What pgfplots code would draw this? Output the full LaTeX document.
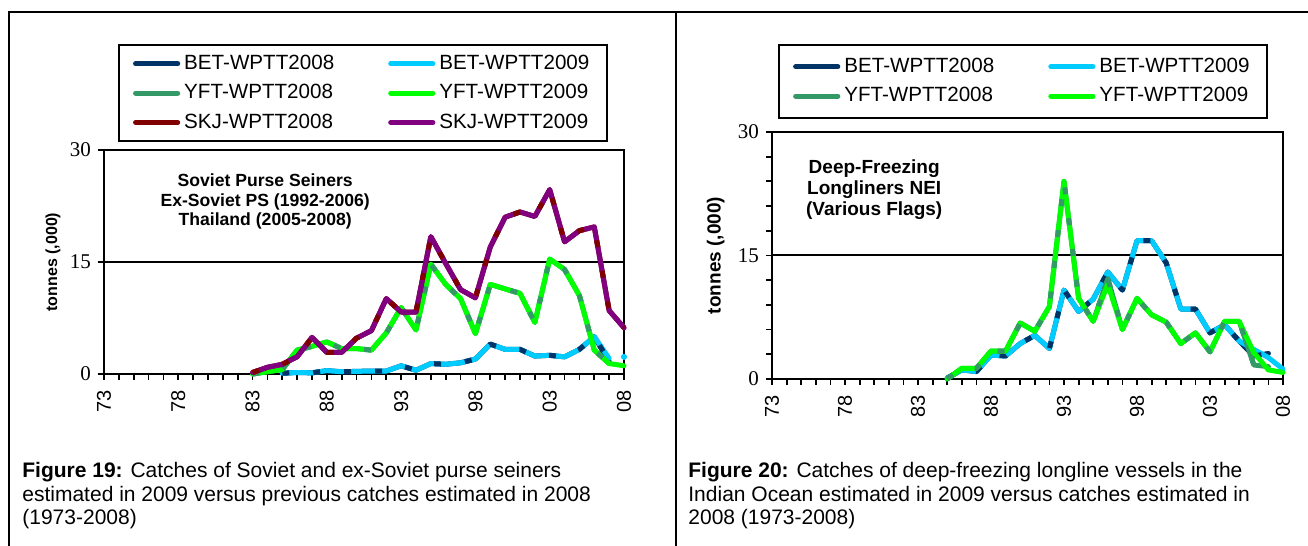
\documentclass[border=0pt]{standalone}
\usepackage{fontspec}
\setmainfont{Liberation Sans}
\newfontfamily\timesfont{Liberation Serif}
\usepackage{pgfplots}
\pgfplotsset{compat=1.18}
\usepackage{pgfplotstable}

\definecolor{bet08}{RGB}{0,51,102}
\definecolor{bet09}{RGB}{0,204,255}
\definecolor{yft08}{RGB}{51,153,102}
\definecolor{yft09}{RGB}{0,255,0}
\definecolor{skj08}{RGB}{128,0,0}
\definecolor{skj09}{RGB}{128,0,128}

% Soviet / ex-Soviet purse seiners, thousand tonnes
\pgfplotstableread{
year bet08 bet09 yft08 yft09 skj08 skj09
1983 nan  nan  0.0  0.0  0.2  0.2
1984 nan  nan  0.3  0.3  0.9  0.9
1985 0.1  0.1  0.6  0.6  1.3  1.3
1986 0.2  0.2  3.2  3.2  2.3  2.3
1987 0.15 0.15 3.7  3.7  4.9  4.9
1988 0.45 0.45 4.3  4.3  2.9  2.9
1989 0.3  0.3  3.4  3.4  2.9  2.9
1990 0.35 0.35 3.4  3.4  4.8  4.8
1991 0.4  0.4  3.2  3.2  5.8  5.8
1992 0.4  0.4  5.5  5.5  10.1 10.1
1993 1.1  1.1  8.9  8.9  8.3  8.3
1994 0.5  0.5  5.9  5.9  8.3  8.3
1995 1.4  1.4  14.7 14.7 18.4 18.4
1996 1.3  1.3  12.0 12.0 14.8 14.8
1997 1.5  1.5  10.1 10.1 11.3 11.3
1998 2.0  2.0  5.4  5.4  10.2 10.2
1999 4.0  4.0  12.0 12.0 17.0 17.0
2000 3.3  3.3  11.4 11.4 21.0 21.0
2001 3.3  3.3  10.8 10.8 21.7 21.7
2002 2.4  2.4  6.9  6.9  21.1 21.1
2003 2.5  2.5  15.4 15.4 24.7 24.7
2004 2.3  2.3  14.0 14.0 17.7 17.7
2005 3.3  3.3  10.5 10.5 19.2 19.2
2006 5.0  5.0  3.2  3.2  19.7 19.7
2007 1.7  2.1  1.4  1.4  8.5  8.5
2008 nan  nan  nan  1.1  6.2  6.2
}\soviet

% deep-freezing longliners NEI, thousand tonnes
\pgfplotstableread{
year bet08 bet09 yft08 yft09
1985 0.1  0.1  0.0  0.0
1986 1.1  1.1  1.3  1.3
1987 0.9  0.9  1.3  1.3
1988 2.9  2.9  3.4  3.4
1989 2.8  2.8  3.4  3.4
1990 4.3  4.3  6.8  6.8
1991 5.3  5.3  5.8  5.8
1992 3.7  3.7  8.8  8.8
1993 10.8 10.8 24.0 24.0
1994 8.2  8.2  9.8  9.8
1995 9.7  9.7  7.0  7.0
1996 13.0 13.0 12.2 11.5
1997 10.8 10.8 6.0  6.0
1998 16.8 16.8 9.8  9.8
1999 16.8 16.8 7.8  7.8
2000 14.1 14.1 6.9  6.9
2001 8.5  8.5  4.3  4.3
2002 8.5  8.5  5.6  5.6
2003 5.6  5.6  3.3  3.3
2004 6.6  6.6  7.0  7.0
2005 4.6  4.6  7.0  7.0
2006 2.8  3.6  1.7  3.2
2007 3.1  2.6  1.5  1.1
2008 nan  1.2  nan  0.8
}\longline

\pgfplotsset{
  catch/.style={
    scale only axis,
    xmin=1973, xmax=2008, ymin=0, ymax=30,
    clip=false,
    unbounded coords=jump,
    axis line style={line width=1pt},
    xtick={1973,1978,...,2008},
    xticklabels={73,78,83,88,93,98,03,08},
    minor x tick num=4,
    ytick={0,15,30},
    tick align=outside,
    xtick pos=left, ytick pos=left,
    major tick length=3pt, minor tick length=3pt,
    every tick/.style={black, line width=0.9pt},
    ymajorgrids,
    grid style={black, line width=1pt},
    xticklabel shift=1.5pt,
    xticklabel style={rotate=90, anchor=east, font=\fontsize{10}{12}\selectfont},
    yticklabel style={font=\timesfont\fontsize{10.5}{12}\selectfont},
    /pgf/number format/assume math mode=true,
    legend columns=2,
    legend cell align=left,
    legend style={draw=black, line width=1pt, font=\fontsize{10.3}{12}\selectfont,
      inner xsep=7pt, inner ysep=3pt, row sep=2pt,
      /tikz/every even column/.append style={column sep=25pt}},
    legend image code/.code={\draw[#1, line width=2.6pt] (0pt,0pt) -- (21pt,0pt);},
  },
  full/.style={line width=2.5pt, line cap=round, line join=round},
  over/.style={line width=2.5pt, line join=round, dash pattern=on 3.5pt off 12pt, forget plot},
}

\begin{document}
\begin{tikzpicture}
\path[use as bounding box] (0,0) rectangle (654pt,273pt);
\draw[line width=1pt] (4.5pt,0) -- (4.5pt,266.75pt) -- (654pt,266.75pt);
\draw[line width=1pt] (338pt,0) -- (338pt,266.75pt);

\begin{axis}[catch, at={(52pt,86pt)}, anchor=south west,
    width=260pt, height=112pt,
    ylabel={tonnes (,000)},
    ylabel style={font=\bfseries\fontsize{8}{10}\selectfont, at={(axis description cs:-0.098,0.5)}, anchor=center},
    legend style={at={(axis description cs:0.027,1.473)}, anchor=north west}]
  \addplot[full, bet08] table[x=year, y=bet08] {\soviet};
  \addlegendentry{BET-WPTT2008}
  \addplot[full, bet09] table[x=year, y=bet09] {\soviet};
  \addlegendentry{BET-WPTT2009}
  \addplot[over, bet08] table[x=year, y=bet08] {\soviet};
  \addplot[bet09, only marks, mark=*, mark size=1.3pt, forget plot] coordinates {(2008,2.3)};
  \addplot[full, yft08] table[x=year, y=yft08] {\soviet};
  \addlegendentry{YFT-WPTT2008}
  \addplot[full, yft09] table[x=year, y=yft09] {\soviet};
  \addlegendentry{YFT-WPTT2009}
  \addplot[over, yft08] table[x=year, y=yft08] {\soviet};
  \addplot[full, skj08] table[x=year, y=skj08] {\soviet};
  \addlegendentry{SKJ-WPTT2008}
  \addplot[full, skj09] table[x=year, y=skj09] {\soviet};
  \addlegendentry{SKJ-WPTT2009}
  \addplot[over, skj08] table[x=year, y=skj08] {\soviet};
  \node[align=center, font=\bfseries\fontsize{8.8}{9.6}\selectfont]
    at (axis description cs:0.31,0.77) {Soviet Purse Seiners\\Ex-Soviet PS (1992-2006)\\Thailand (2005-2008)};
\end{axis}

\begin{axis}[catch, at={(386pt,83.5pt)}, anchor=south west,
    width=255.5pt, height=123.5pt,
    minor y tick num=4,
    ylabel={tonnes (,000)},
    ylabel style={font=\bfseries\fontsize{9.5}{11}\selectfont, at={(axis description cs:-0.11,0.5)}, anchor=center},
    legend style={at={(axis description cs:0.012,1.356)}, anchor=north west, inner ysep=4.5pt}]
  \addplot[full, bet08] table[x=year, y=bet08] {\longline};
  \addlegendentry{BET-WPTT2008}
  \addplot[full, bet09] table[x=year, y=bet09] {\longline};
  \addlegendentry{BET-WPTT2009}
  \addplot[over, bet08] table[x=year, y=bet08] {\longline};
  \addplot[full, yft08] table[x=year, y=yft08] {\longline};
  \addlegendentry{YFT-WPTT2008}
  \addplot[full, yft09] table[x=year, y=yft09] {\longline};
  \addlegendentry{YFT-WPTT2009}
  \addplot[over, yft08] table[x=year, y=yft08] {\longline};
  \node[align=center, font=\bfseries\fontsize{9.5}{10.5}\selectfont]
    at (axis description cs:0.2,0.765) {Deep-Freezing\\Longliners NEI\\(Various Flags)};
\end{axis}

\begin{scope}[font=\fontsize{10.5}{12}\selectfont]
  \node[anchor=base west, inner sep=0pt] at (11pt,34pt) {\textbf{Figure 19:} Catches of Soviet and ex-Soviet purse seiners};
  \node[anchor=base west, inner sep=0pt] at (11pt,22.25pt) {estimated in 2009 versus previous catches estimated in 2008};
  \node[anchor=base west, inner sep=0pt] at (11pt,10.5pt) {(1973-2008)};
  \node[anchor=base west, inner sep=0pt] at (344pt,34pt) {\textbf{Figure 20:} Catches of deep-freezing longline vessels in the};
  \node[anchor=base west, inner sep=0pt] at (344pt,22.25pt) {Indian Ocean estimated in 2009 versus catches estimated in};
  \node[anchor=base west, inner sep=0pt] at (344pt,10.5pt) {2008 (1973-2008)};
\end{scope}
\end{tikzpicture}
\end{document}
